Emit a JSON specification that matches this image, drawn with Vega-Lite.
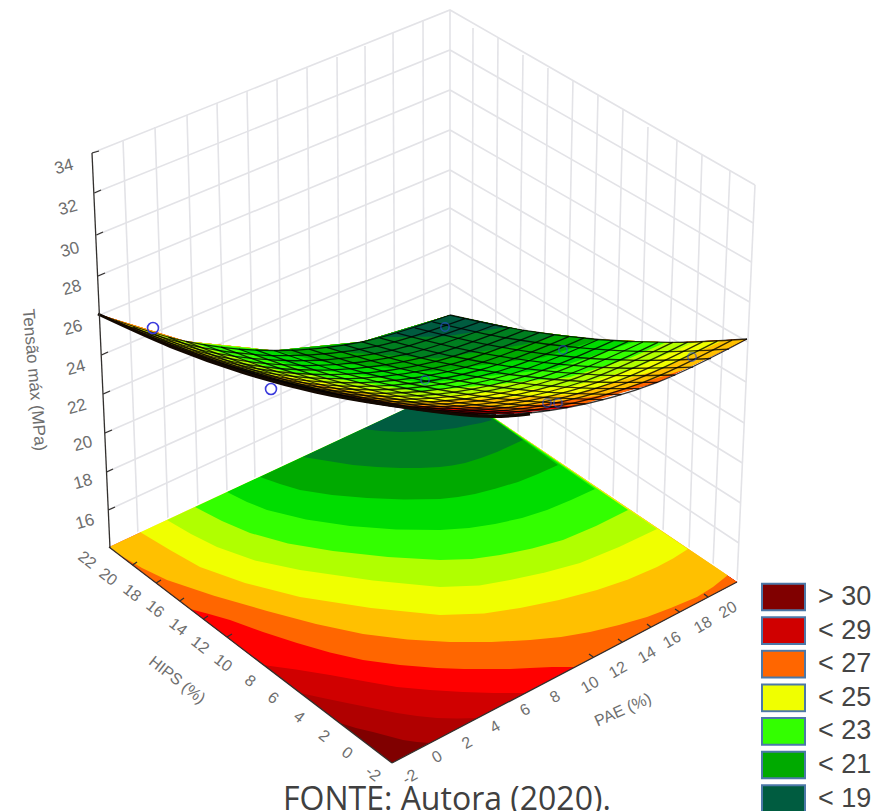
{"$schema":"https://vega.github.io/schema/vega-lite/v6.json","width":875,"height":811,"padding":0,"autosize":{"type":"none"},"background":"white","config":{"view":{"stroke":null},"axis":{"domain":false}},
"encoding":{"x":{"field":"u","type":"quantitative","scale":{"domain":[0,875],"nice":false,"zero":false},"axis":null},"y":{"field":"v","type":"quantitative","scale":{"domain":[811,0],"nice":false,"zero":false},"axis":null}},
"layer":[
{"data":{"values":[
{"k":"z34","i":0,"u":92,"v":153},{"k":"z34","i":1,"u":450,"v":10},{"k":"z34","i":2,"u":755,"v":185},
{"k":"z32","i":0,"u":94.3,"v":193},{"k":"z32","i":1,"u":450,"v":50},{"k":"z32","i":2,"u":753.2,"v":223},
{"k":"z30","i":0,"u":96.4,"v":235},{"k":"z30","i":1,"u":450,"v":90},{"k":"z30","i":2,"u":751.4,"v":262},
{"k":"z28","i":0,"u":98,"v":276},{"k":"z28","i":1,"u":450,"v":130},{"k":"z28","i":2,"u":749.6,"v":302},
{"k":"z26","i":0,"u":99.8,"v":315},{"k":"z26","i":1,"u":450,"v":170},{"k":"z26","i":2,"u":747.8,"v":342},
{"k":"z24","i":0,"u":101.5,"v":355},{"k":"z24","i":1,"u":450,"v":208},{"k":"z24","i":2,"u":746,"v":382},
{"k":"z22","i":0,"u":103.2,"v":394},{"k":"z22","i":1,"u":450,"v":245},{"k":"z22","i":2,"u":744.2,"v":423},
{"k":"z20","i":0,"u":104.9,"v":433},{"k":"z20","i":1,"u":450,"v":283},{"k":"z20","i":2,"u":742.4,"v":463},
{"k":"z18","i":0,"u":106.6,"v":472},{"k":"z18","i":1,"u":450,"v":318},{"k":"z18","i":2,"u":740.6,"v":503},
{"k":"z16","i":0,"u":108.3,"v":510},{"k":"z16","i":1,"u":450,"v":352},{"k":"z16","i":2,"u":738.8,"v":543},
{"k":"l1","i":0,"u":123,"v":140},{"k":"l1","i":1,"u":138,"v":535},
{"k":"l2","i":0,"u":155,"v":127},{"k":"l2","i":1,"u":168,"v":520},
{"k":"l3","i":0,"u":187,"v":115},{"k":"l3","i":1,"u":198,"v":506},
{"k":"l4","i":0,"u":217,"v":103},{"k":"l4","i":1,"u":227,"v":492},
{"k":"l5","i":0,"u":247,"v":91},{"k":"l5","i":1,"u":255,"v":479},
{"k":"l6","i":0,"u":277,"v":80},{"k":"l6","i":1,"u":282,"v":466},
{"k":"l7","i":0,"u":307,"v":68},{"k":"l7","i":1,"u":312,"v":452},
{"k":"l8","i":0,"u":337,"v":57},{"k":"l8","i":1,"u":340,"v":438},
{"k":"l9","i":0,"u":365,"v":46},{"k":"l9","i":1,"u":367,"v":425},
{"k":"l10","i":0,"u":393,"v":33},{"k":"l10","i":1,"u":395,"v":412},
{"k":"l11","i":0,"u":423,"v":20},{"k":"l11","i":1,"u":424,"v":400},
{"k":"l12","i":0,"u":450,"v":10},{"k":"l12","i":1,"u":450,"v":388},
{"k":"r1","i":0,"u":473,"v":28},{"k":"r1","i":1,"u":472,"v":403},
{"k":"r2","i":0,"u":498,"v":38},{"k":"r2","i":1,"u":495,"v":418},
{"k":"r3","i":0,"u":523,"v":55},{"k":"r3","i":1,"u":518,"v":434},
{"k":"r4","i":0,"u":548,"v":68},{"k":"r4","i":1,"u":542,"v":450},
{"k":"r5","i":0,"u":573,"v":80},{"k":"r5","i":1,"u":565,"v":466},
{"k":"r6","i":0,"u":598,"v":95},{"k":"r6","i":1,"u":589,"v":482},
{"k":"r7","i":0,"u":623,"v":110},{"k":"r7","i":1,"u":613,"v":498},
{"k":"r8","i":0,"u":648,"v":127},{"k":"r8","i":1,"u":637,"v":514},
{"k":"r9","i":0,"u":677,"v":140},{"k":"r9","i":1,"u":663,"v":532},
{"k":"r10","i":0,"u":702,"v":155},{"k":"r10","i":1,"u":689,"v":550},
{"k":"r11","i":0,"u":730,"v":170},{"k":"r11","i":1,"u":713,"v":566},
{"k":"r12","i":0,"u":755,"v":185},{"k":"r12","i":1,"u":737,"v":582}
]},"mark":{"type":"line","stroke":"#e3e3e7","strokeWidth":1.6},"encoding":{"detail":{"field":"k"},"order":{"field":"i"}}},

{"data":{"values":[
{"g":"f0","b":"> 30","i":0,"u":392,"v":763},{"g":"f0","b":"> 30","i":1,"u":737,"v":582},{"g":"f0","b":"> 30","i":2,"u":450,"v":388},{"g":"f0","b":"> 30","i":3,"u":109,"v":547},
{"g":"f1","b":"< 30","i":0,"u":340,"v":723},{"g":"f1","b":"< 30","i":1,"u":356,"v":728},{"g":"f1","b":"< 30","i":2,"u":373,"v":732},{"g":"f1","b":"< 30","i":3,"u":388,"v":736},{"g":"f1","b":"< 30","i":4,"u":403,"v":740},{"g":"f1","b":"< 30","i":5,"u":417,"v":742},{"g":"f1","b":"< 30","i":6,"u":430,"v":743},{"g":"f1","b":"< 30","i":7,"u":737,"v":582},{"g":"f1","b":"< 30","i":8,"u":450,"v":388},{"g":"f1","b":"< 30","i":9,"u":109,"v":547},
{"g":"f2","b":"< 29","i":0,"u":300,"v":693},{"g":"f2","b":"< 29","i":1,"u":323,"v":698},{"g":"f2","b":"< 29","i":2,"u":347,"v":703},{"g":"f2","b":"< 29","i":3,"u":372,"v":708},{"g":"f2","b":"< 29","i":4,"u":397,"v":713},{"g":"f2","b":"< 29","i":5,"u":417,"v":716},{"g":"f2","b":"< 29","i":6,"u":437,"v":718},{"g":"f2","b":"< 29","i":7,"u":457,"v":718.5},{"g":"f2","b":"< 29","i":8,"u":477,"v":718},{"g":"f2","b":"< 29","i":9,"u":737,"v":582},{"g":"f2","b":"< 29","i":10,"u":450,"v":388},{"g":"f2","b":"< 29","i":11,"u":109,"v":547},
{"g":"f3","b":"< 28","i":0,"u":263,"v":665},{"g":"f3","b":"< 28","i":1,"u":296,"v":669.5},{"g":"f3","b":"< 28","i":2,"u":330,"v":675},{"g":"f3","b":"< 28","i":3,"u":363,"v":681},{"g":"f3","b":"< 28","i":4,"u":397,"v":687},{"g":"f3","b":"< 28","i":5,"u":430,"v":690},{"g":"f3","b":"< 28","i":6,"u":463,"v":692},{"g":"f3","b":"< 28","i":7,"u":494,"v":693},{"g":"f3","b":"< 28","i":8,"u":525,"v":693},{"g":"f3","b":"< 28","i":9,"u":737,"v":582},{"g":"f3","b":"< 28","i":10,"u":450,"v":388},{"g":"f3","b":"< 28","i":11,"u":109,"v":547},
{"g":"f4","b":"< 27","i":0,"u":190,"v":609},{"g":"f4","b":"< 27","i":1,"u":209,"v":614},{"g":"f4","b":"< 27","i":2,"u":230,"v":620},{"g":"f4","b":"< 27","i":3,"u":263,"v":632},{"g":"f4","b":"< 27","i":4,"u":297,"v":643},{"g":"f4","b":"< 27","i":5,"u":330,"v":652.5},{"g":"f4","b":"< 27","i":6,"u":363,"v":660},{"g":"f4","b":"< 27","i":7,"u":400,"v":665},{"g":"f4","b":"< 27","i":8,"u":437,"v":668},{"g":"f4","b":"< 27","i":9,"u":464,"v":669},{"g":"f4","b":"< 27","i":10,"u":490,"v":669},{"g":"f4","b":"< 27","i":11,"u":510,"v":669},{"g":"f4","b":"< 27","i":12,"u":530,"v":668},{"g":"f4","b":"< 27","i":13,"u":552,"v":667},{"g":"f4","b":"< 27","i":14,"u":575,"v":667},{"g":"f4","b":"< 27","i":15,"u":737,"v":582},{"g":"f4","b":"< 27","i":16,"u":450,"v":388},{"g":"f4","b":"< 27","i":17,"u":109,"v":547},
{"g":"f5","b":"< 26","i":0,"u":118,"v":554},{"g":"f5","b":"< 26","i":1,"u":142,"v":568},{"g":"f5","b":"< 26","i":2,"u":167,"v":580},{"g":"f5","b":"< 26","i":3,"u":214,"v":595.7},{"g":"f5","b":"< 26","i":4,"u":267,"v":611},{"g":"f5","b":"< 26","i":5,"u":316,"v":624},{"g":"f5","b":"< 26","i":6,"u":363,"v":634},{"g":"f5","b":"< 26","i":7,"u":407.5,"v":639.6},{"g":"f5","b":"< 26","i":8,"u":450,"v":642},{"g":"f5","b":"< 26","i":9,"u":491.7,"v":642},{"g":"f5","b":"< 26","i":10,"u":530,"v":640},{"g":"f5","b":"< 26","i":11,"u":561,"v":637},{"g":"f5","b":"< 26","i":12,"u":590,"v":632},{"g":"f5","b":"< 26","i":13,"u":619,"v":625},{"g":"f5","b":"< 26","i":14,"u":647,"v":617},{"g":"f5","b":"< 26","i":15,"u":672,"v":607.5},{"g":"f5","b":"< 26","i":16,"u":697,"v":597},{"g":"f5","b":"< 26","i":17,"u":713,"v":587},{"g":"f5","b":"< 26","i":18,"u":728,"v":575},{"g":"f5","b":"< 26","i":19,"u":450,"v":388},{"g":"f5","b":"< 26","i":20,"u":109,"v":547},
{"g":"f6","b":"< 25","i":0,"u":140,"v":532},{"g":"f6","b":"< 25","i":1,"u":170,"v":550},{"g":"f6","b":"< 25","i":2,"u":200,"v":567},{"g":"f6","b":"< 25","i":3,"u":245,"v":583},{"g":"f6","b":"< 25","i":4,"u":300,"v":597},{"g":"f6","b":"< 25","i":5,"u":371,"v":608},{"g":"f6","b":"< 25","i":6,"u":440,"v":615},{"g":"f6","b":"< 25","i":7,"u":484,"v":613.6},{"g":"f6","b":"< 25","i":8,"u":520,"v":608},{"g":"f6","b":"< 25","i":9,"u":559,"v":600},{"g":"f6","b":"< 25","i":10,"u":597,"v":590},{"g":"f6","b":"< 25","i":11,"u":628,"v":579.5},{"g":"f6","b":"< 25","i":12,"u":657,"v":567},{"g":"f6","b":"< 25","i":13,"u":673,"v":558.5},{"g":"f6","b":"< 25","i":14,"u":688,"v":549},{"g":"f6","b":"< 25","i":15,"u":450,"v":388},
{"g":"f7","b":"< 24","i":0,"u":167,"v":520},{"g":"f7","b":"< 24","i":1,"u":191,"v":534},{"g":"f7","b":"< 24","i":2,"u":217,"v":547},{"g":"f7","b":"< 24","i":3,"u":255,"v":560.5},{"g":"f7","b":"< 24","i":4,"u":300,"v":570},{"g":"f7","b":"< 24","i":5,"u":373,"v":580.5},{"g":"f7","b":"< 24","i":6,"u":440,"v":587},{"g":"f7","b":"< 24","i":7,"u":479.4,"v":585.6},{"g":"f7","b":"< 24","i":8,"u":510,"v":580},{"g":"f7","b":"< 24","i":9,"u":545,"v":572.5},{"g":"f7","b":"< 24","i":10,"u":580,"v":563},{"g":"f7","b":"< 24","i":11,"u":619,"v":547},{"g":"f7","b":"< 24","i":12,"u":657,"v":529},{"g":"f7","b":"< 24","i":13,"u":450,"v":388},
{"g":"f8","b":"< 23","i":0,"u":195,"v":507},{"g":"f8","b":"< 23","i":1,"u":222,"v":521},{"g":"f8","b":"< 23","i":2,"u":250,"v":533},{"g":"f8","b":"< 23","i":3,"u":288,"v":543.5},{"g":"f8","b":"< 23","i":4,"u":333,"v":551},{"g":"f8","b":"< 23","i":5,"u":388,"v":557},{"g":"f8","b":"< 23","i":6,"u":440,"v":560},{"g":"f8","b":"< 23","i":7,"u":472,"v":559},{"g":"f8","b":"< 23","i":8,"u":500,"v":555},{"g":"f8","b":"< 23","i":9,"u":532,"v":548.5},{"g":"f8","b":"< 23","i":10,"u":563,"v":540},{"g":"f8","b":"< 23","i":11,"u":596,"v":526},{"g":"f8","b":"< 23","i":12,"u":628,"v":510},{"g":"f8","b":"< 23","i":13,"u":450,"v":388},
{"g":"f9","b":"< 22","i":0,"u":227,"v":492},{"g":"f9","b":"< 22","i":1,"u":247,"v":502},{"g":"f9","b":"< 22","i":2,"u":267,"v":510},{"g":"f9","b":"< 22","i":3,"u":306,"v":519.5},{"g":"f9","b":"< 22","i":4,"u":350,"v":526},{"g":"f9","b":"< 22","i":5,"u":396,"v":529.5},{"g":"f9","b":"< 22","i":6,"u":440,"v":530},{"g":"f9","b":"< 22","i":7,"u":469,"v":528},{"g":"f9","b":"< 22","i":8,"u":495,"v":524},{"g":"f9","b":"< 22","i":9,"u":522,"v":518},{"g":"f9","b":"< 22","i":10,"u":547,"v":510},{"g":"f9","b":"< 22","i":11,"u":571,"v":500},{"g":"f9","b":"< 22","i":12,"u":595,"v":489},{"g":"f9","b":"< 22","i":13,"u":450,"v":388},
{"g":"f10","b":"< 21","i":0,"u":260,"v":477},{"g":"f10","b":"< 21","i":1,"u":280,"v":484},{"g":"f10","b":"< 21","i":2,"u":300,"v":490},{"g":"f10","b":"< 21","i":3,"u":332,"v":495},{"g":"f10","b":"< 21","i":4,"u":367,"v":498},{"g":"f10","b":"< 21","i":5,"u":404,"v":499.5},{"g":"f10","b":"< 21","i":6,"u":440,"v":499},{"g":"f10","b":"< 21","i":7,"u":458,"v":497},{"g":"f10","b":"< 21","i":8,"u":475,"v":494},{"g":"f10","b":"< 21","i":9,"u":496,"v":488.5},{"g":"f10","b":"< 21","i":10,"u":518,"v":482},{"g":"f10","b":"< 21","i":11,"u":538,"v":474},{"g":"f10","b":"< 21","i":12,"u":558,"v":465},{"g":"f10","b":"< 21","i":13,"u":450,"v":388},
{"g":"f11","b":"< 20","i":0,"u":303,"v":457},{"g":"f11","b":"< 20","i":1,"u":328,"v":461},{"g":"f11","b":"< 20","i":2,"u":353,"v":465},{"g":"f11","b":"< 20","i":3,"u":377,"v":467},{"g":"f11","b":"< 20","i":4,"u":400,"v":468},{"g":"f11","b":"< 20","i":5,"u":420,"v":468},{"g":"f11","b":"< 20","i":6,"u":440,"v":467},{"g":"f11","b":"< 20","i":7,"u":452,"v":465.5},{"g":"f11","b":"< 20","i":8,"u":465,"v":463},{"g":"f11","b":"< 20","i":9,"u":481,"v":458},{"g":"f11","b":"< 20","i":10,"u":497,"v":452},{"g":"f11","b":"< 20","i":11,"u":510,"v":446},{"g":"f11","b":"< 20","i":12,"u":523,"v":440},{"g":"f11","b":"< 20","i":13,"u":450,"v":388},
{"g":"f12","b":"< 19","i":0,"u":363,"v":429},{"g":"f12","b":"< 19","i":1,"u":381,"v":431},{"g":"f12","b":"< 19","i":2,"u":400,"v":432},{"g":"f12","b":"< 19","i":3,"u":420,"v":431.5},{"g":"f12","b":"< 19","i":4,"u":440,"v":430},{"g":"f12","b":"< 19","i":5,"u":456,"v":428},{"g":"f12","b":"< 19","i":6,"u":470,"v":425},{"g":"f12","b":"< 19","i":7,"u":481,"v":423},{"g":"f12","b":"< 19","i":8,"u":492,"v":420},{"g":"f12","b":"< 19","i":9,"u":450,"v":388}
]},"mark":{"type":"line","interpolate":"linear","strokeWidth":0},"encoding":{"detail":{"field":"g"},"order":{"field":"i"},"fill":{"field":"b","type":"nominal","scale":{"domain":["> 30","< 30","< 29","< 28","< 27","< 26","< 25","< 24","< 23","< 22","< 21","< 20","< 19"],"range":["#800000","#b00000","#d00000","#ff0000","#ff6600","#ffc000","#f0ff00","#b0ff00","#33ff00","#00dd00","#00aa00","#007f20","#005c40"]},"legend":{"orient":"none","legendX":761,"legendY":582,"title":null,"padding":0,"values":["> 30","< 29","< 27","< 25","< 23","< 21","< 19"],"symbolType":"M-1,-0.62H1V0.62H-1Z","symbolSize":1849,"symbolStrokeColor":"#555555","symbolStrokeWidth":2,"symbolOpacity":1,"labelFont":"Liberation Sans","labelFontSize":27,"labelColor":"#444444","labelOffset":12,"rowPadding":3.6,"clipHeight":30}}}},

{"data":{"values":[{"k":"tl","i":0,"u":109,"v":546},{"k":"tl","i":1,"u":450,"v":387},{"k":"tl","i":2,"u":737.5,"v":581}]},"mark":{"type":"line","stroke":"#ffffff","strokeWidth":1.4},"encoding":{"detail":{"field":"k"},"order":{"field":"i"}}},

{"data":{"values":[
{"g":"s0","b":"< 29","i":0,"u":388,"v":404},{"g":"s0","b":"< 29","i":1,"u":478,"v":414.8},{"g":"s0","b":"< 29","i":2,"u":567.5,"v":407.5},{"g":"s0","b":"< 29","i":3,"u":657.3,"v":382.3},{"g":"s0","b":"< 29","i":4,"u":747,"v":339},{"g":"s0","b":"< 29","i":5,"u":672.8,"v":342.4},{"g":"s0","b":"< 29","i":6,"u":598.5,"v":339.5},{"g":"s0","b":"< 29","i":7,"u":524.3,"v":330.4},{"g":"s0","b":"< 29","i":8,"u":450,"v":315},{"g":"s0","b":"< 29","i":9,"u":362,"v":341.8},{"g":"s0","b":"< 29","i":10,"u":274,"v":350.5},{"g":"s0","b":"< 29","i":11,"u":186,"v":341.3},{"g":"s0","b":"< 29","i":12,"u":98,"v":314},{"g":"s0","b":"< 29","i":13,"u":170.5,"v":345.9},{"g":"s0","b":"< 29","i":14,"u":243,"v":371.5},{"g":"s0","b":"< 29","i":15,"u":315.5,"v":390.9},
{"g":"s1","b":"< 28","i":0,"u":289.7,"v":384.7},{"g":"s1","b":"< 28","i":1,"u":336.9,"v":396.1},{"g":"s1","b":"< 28","i":2,"u":397.9,"v":407},{"g":"s1","b":"< 28","i":3,"u":460.2,"v":413.2},{"g":"s1","b":"< 28","i":4,"u":509.7,"v":414.2},{"g":"s1","b":"< 28","i":5,"u":567.5,"v":407.5},{"g":"s1","b":"< 28","i":6,"u":657.3,"v":382.3},{"g":"s1","b":"< 28","i":7,"u":747,"v":339},{"g":"s1","b":"< 28","i":8,"u":672.8,"v":342.4},{"g":"s1","b":"< 28","i":9,"u":598.5,"v":339.5},{"g":"s1","b":"< 28","i":10,"u":524.3,"v":330.4},{"g":"s1","b":"< 28","i":11,"u":450,"v":315},{"g":"s1","b":"< 28","i":12,"u":362,"v":341.8},{"g":"s1","b":"< 28","i":13,"u":274,"v":350.5},{"g":"s1","b":"< 28","i":14,"u":186,"v":341.3},{"g":"s1","b":"< 28","i":15,"u":98,"v":314},{"g":"s1","b":"< 28","i":16,"u":170.5,"v":345.9},{"g":"s1","b":"< 28","i":17,"u":243,"v":371.5},
{"g":"s2","b":"< 27","i":0,"u":232,"v":368},{"g":"s2","b":"< 27","i":1,"u":291.8,"v":385.4},{"g":"s2","b":"< 27","i":2,"u":401.9,"v":406.6},{"g":"s2","b":"< 27","i":3,"u":516.3,"v":411.3},{"g":"s2","b":"< 27","i":4,"u":581.1,"v":404.8},{"g":"s2","b":"< 27","i":5,"u":657.3,"v":382.3},{"g":"s2","b":"< 27","i":6,"u":747,"v":339},{"g":"s2","b":"< 27","i":7,"u":672.8,"v":342.4},{"g":"s2","b":"< 27","i":8,"u":598.5,"v":339.5},{"g":"s2","b":"< 27","i":9,"u":524.3,"v":330.4},{"g":"s2","b":"< 27","i":10,"u":450,"v":315},{"g":"s2","b":"< 27","i":11,"u":362,"v":341.8},{"g":"s2","b":"< 27","i":12,"u":274,"v":350.5},{"g":"s2","b":"< 27","i":13,"u":186,"v":341.3},{"g":"s2","b":"< 27","i":14,"u":98,"v":314},{"g":"s2","b":"< 27","i":15,"u":170.5,"v":345.9},
{"g":"s3","b":"< 26","i":0,"u":98,"v":314},{"g":"s3","b":"< 26","i":1,"u":149.2,"v":337},{"g":"s3","b":"< 26","i":2,"u":221.7,"v":364.1},{"g":"s3","b":"< 26","i":3,"u":301.2,"v":386.8},{"g":"s3","b":"< 26","i":4,"u":406.6,"v":405},{"g":"s3","b":"< 26","i":5,"u":515.3,"v":407.4},{"g":"s3","b":"< 26","i":6,"u":602,"v":395.3},{"g":"s3","b":"< 26","i":7,"u":685.2,"v":369.3},{"g":"s3","b":"< 26","i":8,"u":747,"v":339},{"g":"s3","b":"< 26","i":9,"u":672.8,"v":342.4},{"g":"s3","b":"< 26","i":10,"u":598.5,"v":339.5},{"g":"s3","b":"< 26","i":11,"u":524.3,"v":330.4},{"g":"s3","b":"< 26","i":12,"u":450,"v":315},{"g":"s3","b":"< 26","i":13,"u":362,"v":341.8},{"g":"s3","b":"< 26","i":14,"u":274,"v":350.5},{"g":"s3","b":"< 26","i":15,"u":186,"v":341.3},
{"g":"s4","b":"< 25","i":0,"u":127.9,"v":325.3},{"g":"s4","b":"< 25","i":1,"u":176.8,"v":346},{"g":"s4","b":"< 25","i":2,"u":255.9,"v":372.8},{"g":"s4","b":"< 25","i":3,"u":411.1,"v":402.1},{"g":"s4","b":"< 25","i":4,"u":574,"v":394.3},{"g":"s4","b":"< 25","i":5,"u":663.6,"v":368.2},{"g":"s4","b":"< 25","i":6,"u":721.8,"v":340.9},{"g":"s4","b":"< 25","i":7,"u":672.8,"v":342.4},{"g":"s4","b":"< 25","i":8,"u":598.5,"v":339.5},{"g":"s4","b":"< 25","i":9,"u":524.3,"v":330.4},{"g":"s4","b":"< 25","i":10,"u":450,"v":315},{"g":"s4","b":"< 25","i":11,"u":362,"v":341.8},{"g":"s4","b":"< 25","i":12,"u":274,"v":350.5},{"g":"s4","b":"< 25","i":13,"u":186,"v":341.3},
{"g":"s5","b":"< 24","i":0,"u":159.6,"v":335},{"g":"s5","b":"< 24","i":1,"u":209.5,"v":354.4},{"g":"s5","b":"< 24","i":2,"u":263.9,"v":371.5},{"g":"s5","b":"< 24","i":3,"u":415.8,"v":397.8},{"g":"s5","b":"< 24","i":4,"u":575.4,"v":385.8},{"g":"s5","b":"< 24","i":5,"u":636.6,"v":367.8},{"g":"s5","b":"< 24","i":6,"u":695,"v":342},{"g":"s5","b":"< 24","i":7,"u":672.8,"v":342.4},{"g":"s5","b":"< 24","i":8,"u":598.5,"v":339.5},{"g":"s5","b":"< 24","i":9,"u":524.3,"v":330.4},{"g":"s5","b":"< 24","i":10,"u":450,"v":315},{"g":"s5","b":"< 24","i":11,"u":362,"v":341.8},{"g":"s5","b":"< 24","i":12,"u":274,"v":350.5},{"g":"s5","b":"< 24","i":13,"u":186,"v":341.3},
{"g":"s6","b":"< 23","i":0,"u":194.8,"v":343},{"g":"s6","b":"< 23","i":1,"u":224.4,"v":353.9},{"g":"s6","b":"< 23","i":2,"u":279.1,"v":370.2},{"g":"s6","b":"< 23","i":3,"u":420.8,"v":391.5},{"g":"s6","b":"< 23","i":4,"u":569.3,"v":377.2},{"g":"s6","b":"< 23","i":5,"u":630.8,"v":357.8},{"g":"s6","b":"< 23","i":6,"u":665.3,"v":342.4},{"g":"s6","b":"< 23","i":7,"u":598.5,"v":339.5},{"g":"s6","b":"< 23","i":8,"u":524.3,"v":330.4},{"g":"s6","b":"< 23","i":9,"u":450,"v":315},{"g":"s6","b":"< 23","i":10,"u":362,"v":341.8},{"g":"s6","b":"< 23","i":11,"u":274,"v":350.5},
{"g":"s7","b":"< 22","i":0,"u":231.8,"v":348.3},{"g":"s7","b":"< 22","i":1,"u":302.1,"v":368.2},{"g":"s7","b":"< 22","i":2,"u":426,"v":383},{"g":"s7","b":"< 22","i":3,"u":555.2,"v":368.8},{"g":"s7","b":"< 22","i":4,"u":634.1,"v":341.7},{"g":"s7","b":"< 22","i":5,"u":598.5,"v":339.5},{"g":"s7","b":"< 22","i":6,"u":524.3,"v":330.4},{"g":"s7","b":"< 22","i":7,"u":450,"v":315},{"g":"s7","b":"< 22","i":8,"u":362,"v":341.8},{"g":"s7","b":"< 22","i":9,"u":274,"v":350.5},
{"g":"s8","b":"< 21","i":0,"u":274,"v":350.5},{"g":"s8","b":"< 21","i":1,"u":323.4,"v":362.1},{"g":"s8","b":"< 21","i":2,"u":431.5,"v":371.7},{"g":"s8","b":"< 21","i":3,"u":544,"v":357.2},{"g":"s8","b":"< 21","i":4,"u":598.5,"v":339.5},{"g":"s8","b":"< 21","i":5,"u":524.3,"v":330.4},{"g":"s8","b":"< 21","i":6,"u":450,"v":315},{"g":"s8","b":"< 21","i":7,"u":362,"v":341.8},
{"g":"s9","b":"< 20","i":0,"u":323.3,"v":347.8},{"g":"s9","b":"< 20","i":1,"u":354.4,"v":353},{"g":"s9","b":"< 20","i":2,"u":437.3,"v":358.4},{"g":"s9","b":"< 20","i":3,"u":523.2,"v":344.8},{"g":"s9","b":"< 20","i":4,"u":556.9,"v":335.2},{"g":"s9","b":"< 20","i":5,"u":524.3,"v":330.4},{"g":"s9","b":"< 20","i":6,"u":450,"v":315},{"g":"s9","b":"< 20","i":7,"u":362,"v":341.8},
{"g":"s10","b":"< 19","i":0,"u":383,"v":337},{"g":"s10","b":"< 19","i":1,"u":444.2,"v":336.5},{"g":"s10","b":"< 19","i":2,"u":506.4,"v":327.3},{"g":"s10","b":"< 19","i":3,"u":450,"v":315}
]},"mark":{"type":"line","interpolate":"linear","strokeWidth":0},"encoding":{"detail":{"field":"g"},"order":{"field":"i"},"fill":{"field":"b","type":"nominal"}}},

{"data":{"values":[
{"k":"a0","i":0,"u":388,"v":404},{"k":"a0","i":1,"u":478,"v":415},{"k":"a0","i":2,"u":567.5,"v":407.5},{"k":"a0","i":3,"u":657.3,"v":382.3},{"k":"a0","i":4,"u":747,"v":339},
{"k":"a1","i":0,"u":373.5,"v":401.9},{"k":"a1","i":1,"u":463,"v":413.5},{"k":"a1","i":2,"u":553,"v":407},{"k":"a1","i":3,"u":642.5,"v":382.6},{"k":"a1","i":4,"u":732,"v":340.2},
{"k":"a2","i":0,"u":359,"v":399.5},{"k":"a2","i":1,"u":448.6,"v":411.9},{"k":"a2","i":2,"u":538.1,"v":406.3},{"k":"a2","i":3,"u":627.5,"v":382.7},{"k":"a2","i":4,"u":717.3,"v":341.1},
{"k":"a3","i":0,"u":344.5,"v":396.9},{"k":"a3","i":1,"u":434,"v":410.1},{"k":"a3","i":2,"u":523.5,"v":405.4},{"k":"a3","i":3,"u":613,"v":382.6},{"k":"a3","i":4,"u":702.5,"v":341.8},
{"k":"a4","i":0,"u":330,"v":394},{"k":"a4","i":1,"u":419.4,"v":408},{"k":"a4","i":2,"u":508.8,"v":404.1},{"k":"a4","i":3,"u":598.2,"v":382.2},{"k":"a4","i":4,"u":687.6,"v":342.2},
{"k":"a5","i":0,"u":315.5,"v":390.9},{"k":"a5","i":1,"u":404.8,"v":405.8},{"k":"a5","i":2,"u":494.1,"v":402.7},{"k":"a5","i":3,"u":583.4,"v":381.5},{"k":"a5","i":4,"u":672.8,"v":342.4},
{"k":"a6","i":0,"u":301,"v":387.5},{"k":"a6","i":1,"u":390.2,"v":403.2},{"k":"a6","i":2,"u":479.5,"v":400.9},{"k":"a6","i":3,"u":568.7,"v":380.6},{"k":"a6","i":4,"u":657.9,"v":342.3},
{"k":"a7","i":0,"u":286.5,"v":383.9},{"k":"a7","i":1,"u":375.6,"v":400.4},{"k":"a7","i":2,"u":464.8,"v":399},{"k":"a7","i":3,"u":554,"v":379.5},{"k":"a7","i":4,"u":643,"v":342},
{"k":"a8","i":0,"u":272,"v":380},{"k":"a8","i":1,"u":361,"v":397.4},{"k":"a8","i":2,"u":450.1,"v":396.7},{"k":"a8","i":3,"u":539.2,"v":378},{"k":"a8","i":4,"u":628.2,"v":341.4},
{"k":"a9","i":0,"u":257.5,"v":375.9},{"k":"a9","i":1,"u":346.5,"v":394},{"k":"a9","i":2,"u":435.6,"v":394.3},{"k":"a9","i":3,"u":524.6,"v":376.4},{"k":"a9","i":4,"u":613.4,"v":340.6},
{"k":"a10","i":0,"u":243,"v":371.5},{"k":"a10","i":1,"u":331.9,"v":390.5},{"k":"a10","i":2,"u":420.8,"v":391.5},{"k":"a10","i":3,"u":509.6,"v":374.5},{"k":"a10","i":4,"u":598.5,"v":339.5},
{"k":"a11","i":0,"u":228.5,"v":366.9},{"k":"a11","i":1,"u":317.3,"v":386.7},{"k":"a11","i":2,"u":406,"v":388.5},{"k":"a11","i":3,"u":494.9,"v":372.4},{"k":"a11","i":4,"u":583.7,"v":338.2},
{"k":"a12","i":0,"u":214,"v":362},{"k":"a12","i":1,"u":302.7,"v":382.6},{"k":"a12","i":2,"u":391.4,"v":385.3},{"k":"a12","i":3,"u":480,"v":370},{"k":"a12","i":4,"u":568.8,"v":336.6},
{"k":"a13","i":0,"u":199.5,"v":356.9},{"k":"a13","i":1,"u":288.1,"v":378.4},{"k":"a13","i":2,"u":376.7,"v":381.9},{"k":"a13","i":3,"u":465.3,"v":367.4},{"k":"a13","i":4,"u":553.9,"v":334.8},
{"k":"a14","i":0,"u":185,"v":351.5},{"k":"a14","i":1,"u":273.5,"v":373.8},{"k":"a14","i":2,"u":362,"v":378.1},{"k":"a14","i":3,"u":450.6,"v":364.4},{"k":"a14","i":4,"u":539.1,"v":332.7},
{"k":"a15","i":0,"u":170.5,"v":345.9},{"k":"a15","i":1,"u":258.9,"v":369},{"k":"a15","i":2,"u":347.4,"v":374.2},{"k":"a15","i":3,"u":435.8,"v":361.3},{"k":"a15","i":4,"u":524.2,"v":330.4},
{"k":"a16","i":0,"u":156,"v":340},{"k":"a16","i":1,"u":244.3,"v":364},{"k":"a16","i":2,"u":332.7,"v":369.9},{"k":"a16","i":3,"u":421,"v":357.9},{"k":"a16","i":4,"u":509.4,"v":327.8},
{"k":"a17","i":0,"u":141.5,"v":333.9},{"k":"a17","i":1,"u":229.8,"v":358.7},{"k":"a17","i":2,"u":318,"v":365.4},{"k":"a17","i":3,"u":406.3,"v":354.2},{"k":"a17","i":4,"u":494.5,"v":325},
{"k":"a18","i":0,"u":127,"v":327.5},{"k":"a18","i":1,"u":215.2,"v":353.1},{"k":"a18","i":2,"u":303.4,"v":360.7},{"k":"a18","i":3,"u":391.5,"v":350.3},{"k":"a18","i":4,"u":479.7,"v":321.9},
{"k":"a19","i":0,"u":112.5,"v":320.9},{"k":"a19","i":1,"u":200.6,"v":347.3},{"k":"a19","i":2,"u":288.7,"v":355.7},{"k":"a19","i":3,"u":376.8,"v":346.2},{"k":"a19","i":4,"u":464.9,"v":318.6},
{"k":"a20","i":0,"u":98,"v":314},{"k":"a20","i":1,"u":186,"v":341.3},{"k":"a20","i":2,"u":274,"v":350.5},{"k":"a20","i":3,"u":362,"v":341.8},{"k":"a20","i":4,"u":450,"v":315},
{"k":"b1","i":0,"u":406,"v":407.6},{"k":"b1","i":1,"u":333.4,"v":395.3},{"k":"b1","i":2,"u":260.8,"v":376.7},{"k":"b1","i":3,"u":188.2,"v":352},{"k":"b1","i":4,"u":115.6,"v":320.9},
{"k":"b2","i":0,"u":424,"v":410.5},{"k":"b2","i":1,"u":351.2,"v":399},{"k":"b2","i":2,"u":278.6,"v":381.3},{"k":"b2","i":3,"u":205.9,"v":357.4},{"k":"b2","i":4,"u":133.2,"v":327.1},
{"k":"b3","i":0,"u":442,"v":412.6},{"k":"b3","i":1,"u":369.1,"v":402},{"k":"b3","i":2,"u":296.3,"v":385},{"k":"b3","i":3,"u":223.6,"v":362},{"k":"b3","i":4,"u":150.8,"v":332.5},
{"k":"b4","i":0,"u":460,"v":414},{"k":"b4","i":1,"u":387,"v":404.6},{"k":"b4","i":2,"u":314.1,"v":388.1},{"k":"b4","i":3,"u":241.3,"v":365.8},{"k":"b4","i":4,"u":168.4,"v":337.2},
{"k":"b5","i":0,"u":478,"v":414.8},{"k":"b5","i":1,"u":404.8,"v":405.8},{"k":"b5","i":2,"u":331.9,"v":390.5},{"k":"b5","i":3,"u":258.9,"v":369},{"k":"b5","i":4,"u":186,"v":341.3},
{"k":"b6","i":0,"u":496,"v":414.7},{"k":"b6","i":1,"u":422.7,"v":406.6},{"k":"b6","i":2,"u":349.7,"v":392.1},{"k":"b6","i":3,"u":276.6,"v":371.5},{"k":"b6","i":4,"u":203.6,"v":344.5},
{"k":"b7","i":0,"u":514,"v":414},{"k":"b7","i":1,"u":440.5,"v":406.7},{"k":"b7","i":2,"u":367.4,"v":393},{"k":"b7","i":3,"u":294.3,"v":373.2},{"k":"b7","i":4,"u":221.2,"v":347.1},
{"k":"b8","i":0,"u":532,"v":412.6},{"k":"b8","i":1,"u":458.4,"v":406.2},{"k":"b8","i":2,"u":385.2,"v":393.3},{"k":"b8","i":3,"u":312,"v":374.3},{"k":"b8","i":4,"u":238.8,"v":349},
{"k":"b9","i":0,"u":550,"v":410.4},{"k":"b9","i":1,"u":476.3,"v":405},{"k":"b9","i":2,"u":403,"v":392.8},{"k":"b9","i":3,"u":329.7,"v":374.6},{"k":"b9","i":4,"u":256.4,"v":350.1},
{"k":"b10","i":0,"u":567.5,"v":407.5},{"k":"b10","i":1,"u":494.1,"v":402.7},{"k":"b10","i":2,"u":420.8,"v":391.5},{"k":"b10","i":3,"u":347.4,"v":374.2},{"k":"b10","i":4,"u":274,"v":350.5},
{"k":"b11","i":0,"u":585.5,"v":403.9},{"k":"b11","i":1,"u":512,"v":399.9},{"k":"b11","i":2,"u":438.5,"v":389.5},{"k":"b11","i":3,"u":365,"v":373},{"k":"b11","i":4,"u":291.6,"v":350.2},
{"k":"b12","i":0,"u":603.4,"v":399.6},{"k":"b12","i":1,"u":529.9,"v":396.4},{"k":"b12","i":2,"u":456.3,"v":386.9},{"k":"b12","i":3,"u":382.8,"v":371.2},{"k":"b12","i":4,"u":309.2,"v":349.2},
{"k":"b13","i":0,"u":621.4,"v":394.5},{"k":"b13","i":1,"u":547.7,"v":392.1},{"k":"b13","i":2,"u":474.1,"v":383.5},{"k":"b13","i":3,"u":400.4,"v":368.6},{"k":"b13","i":4,"u":326.8,"v":347.4},
{"k":"b14","i":0,"u":639.3,"v":388.7},{"k":"b14","i":1,"u":565.6,"v":387.2},{"k":"b14","i":2,"u":491.9,"v":379.3},{"k":"b14","i":3,"u":418.1,"v":365.3},{"k":"b14","i":4,"u":344.4,"v":344.9},
{"k":"b15","i":0,"u":657.3,"v":382.3},{"k":"b15","i":1,"u":583.4,"v":381.5},{"k":"b15","i":2,"u":509.6,"v":374.5},{"k":"b15","i":3,"u":435.8,"v":361.3},{"k":"b15","i":4,"u":362,"v":341.8},
{"k":"b16","i":0,"u":675.2,"v":375},{"k":"b16","i":1,"u":601.3,"v":375.1},{"k":"b16","i":2,"u":527.4,"v":368.9},{"k":"b16","i":3,"u":453.5,"v":356.5},{"k":"b16","i":4,"u":379.6,"v":337.8},
{"k":"b17","i":0,"u":693.2,"v":367.1},{"k":"b17","i":1,"u":619.2,"v":368},{"k":"b17","i":2,"u":545.2,"v":362.6},{"k":"b17","i":3,"u":471.2,"v":351.1},{"k":"b17","i":4,"u":397.2,"v":333.2},
{"k":"b18","i":0,"u":711.1,"v":358.5},{"k":"b18","i":1,"u":637,"v":360.3},{"k":"b18","i":2,"u":563,"v":356},{"k":"b18","i":3,"u":488.9,"v":344.9},{"k":"b18","i":4,"u":414.8,"v":327.9},
{"k":"b19","i":0,"u":729.1,"v":349.1},{"k":"b19","i":1,"u":654.9,"v":351.7},{"k":"b19","i":2,"u":580.7,"v":347.9},{"k":"b19","i":3,"u":506.6,"v":338},{"k":"b19","i":4,"u":432.4,"v":321.8},
{"k":"b20","i":0,"u":747,"v":339},{"k":"b20","i":1,"u":672.8,"v":342.4},{"k":"b20","i":2,"u":598.5,"v":339.5},{"k":"b20","i":3,"u":524.3,"v":330.4},{"k":"b20","i":4,"u":450,"v":315}
]},"mark":{"type":"line","interpolate":"cardinal","tension":0,"stroke":"#000000","strokeWidth":1.3,"opacity":0.8},"encoding":{"detail":{"field":"k"},"order":{"field":"i"}}},

{"data":{"values":[{"k":"rim","i":0,"u":98,"v":314},{"k":"rim","i":1,"u":170.5,"v":346.5},{"k":"rim","i":2,"u":243,"v":372.5},{"k":"rim","i":3,"u":315.5,"v":392},{"k":"rim","i":4,"u":388,"v":405},{"k":"rim","i":5,"u":478,"v":416},{"k":"rim","i":6,"u":530,"v":414}]},"mark":{"type":"line","interpolate":"cardinal","tension":0,"stroke":"#120800","strokeWidth":3},"encoding":{"detail":{"field":"k"},"order":{"field":"i"}}},

{"data":{"values":[
{"k":"eixo","i":0,"u":92,"v":153},{"k":"eixo","i":1,"u":110,"v":548},
{"k":"t34","i":0,"u":92,"v":153},{"k":"t34","i":1,"u":99,"v":151},
{"k":"t32","i":0,"u":94.3,"v":193},{"k":"t32","i":1,"u":101,"v":190},
{"k":"t30","i":0,"u":96.4,"v":235},{"k":"t30","i":1,"u":103,"v":232},
{"k":"t28","i":0,"u":98,"v":276},{"k":"t28","i":1,"u":105,"v":273},
{"k":"t24","i":0,"u":101.5,"v":355},{"k":"t24","i":1,"u":108,"v":352},
{"k":"t22","i":0,"u":103.2,"v":394},{"k":"t22","i":1,"u":110,"v":391},
{"k":"t20","i":0,"u":104.9,"v":433},{"k":"t20","i":1,"u":112,"v":430},
{"k":"t18","i":0,"u":106.6,"v":472},{"k":"t18","i":1,"u":113,"v":469},
{"k":"t16","i":0,"u":108.3,"v":510},{"k":"t16","i":1,"u":115,"v":507},
{"k":"hips","i":0,"u":109,"v":547},{"k":"hips","i":1,"u":392,"v":763},
{"k":"pae","i":0,"u":392,"v":763},{"k":"pae","i":1,"u":737,"v":582},
{"k":"h1","i":0,"u":132.6,"v":565},{"k":"h1","i":1,"u":137,"v":562},
{"k":"h2","i":0,"u":156.2,"v":583},{"k":"h2","i":1,"u":161,"v":580},
{"k":"h3","i":0,"u":179.8,"v":601},{"k":"h3","i":1,"u":184,"v":598},
{"k":"h4","i":0,"u":203.4,"v":619},{"k":"h4","i":1,"u":208,"v":616},
{"k":"h5","i":0,"u":227,"v":637},{"k":"h5","i":1,"u":232,"v":634},
{"k":"p1","i":0,"u":708,"v":597},{"k":"p1","i":1,"u":704,"v":594},
{"k":"p2","i":0,"u":679.5,"v":612},{"k":"p2","i":1,"u":675,"v":609},
{"k":"p3","i":0,"u":650.7,"v":627},{"k":"p3","i":1,"u":647,"v":624},
{"k":"p4","i":0,"u":622,"v":642},{"k":"p4","i":1,"u":618,"v":639},
{"k":"p5","i":0,"u":593.2,"v":657},{"k":"p5","i":1,"u":589,"v":654}
]},"mark":{"type":"line","stroke":"#33302e","strokeWidth":1.3},"encoding":{"detail":{"field":"k"},"order":{"field":"i"}}},

{"data":{"values":[{"u":153,"v":328},{"u":271,"v":389}]},"mark":{"type":"point","shape":"circle","size":120,"filled":false,"stroke":"#3b3bdc","strokeWidth":1.6,"opacity":1}},
{"data":{"values":[{"u":425,"v":380},{"u":445,"v":327},{"u":563,"v":350},{"u":692,"v":357},{"u":547,"v":403},{"u":558,"v":403}]},"mark":{"type":"point","shape":"circle","size":70,"filled":false,"stroke":"#2a4ad0","strokeWidth":1.6,"opacity":0.6}},

{"data":{"values":[{"u":64,"v":167,"t":"34"},{"u":68,"v":208,"t":"32"},{"u":70,"v":250,"t":"30"},{"u":72,"v":288,"t":"28"},{"u":73,"v":328,"t":"26"},{"u":76,"v":368,"t":"24"},{"u":77,"v":407,"t":"22"},{"u":83,"v":444,"t":"20"},{"u":83,"v":482,"t":"18"},{"u":85,"v":522,"t":"16"}]},"mark":{"type":"text","font":"Liberation Sans","fontSize":17,"angle":-15,"fill":"#6e6e6e","align":"center","baseline":"middle"},"encoding":{"text":{"field":"t"}}},
{"data":{"values":[{"u":87,"v":560,"t":"22"},{"u":108,"v":577,"t":"20"},{"u":132,"v":593,"t":"18"},{"u":155,"v":609,"t":"16"},{"u":178,"v":627,"t":"14"},{"u":200,"v":645,"t":"12"},{"u":223,"v":663,"t":"10"},{"u":250,"v":681,"t":"8"},{"u":273,"v":698,"t":"6"},{"u":299,"v":717,"t":"4"},{"u":324,"v":736,"t":"2"},{"u":347,"v":753,"t":"0"},{"u":373,"v":774,"t":"-2"},{"u":177,"v":680,"t":"HIPS (%)"}]},"mark":{"type":"text","font":"Liberation Sans","fontSize":16,"angle":38,"fill":"#6e6e6e","align":"center","baseline":"middle"},"encoding":{"text":{"field":"t"}}},
{"data":{"values":[{"u":410,"v":777,"t":"-2"},{"u":437,"v":757,"t":"0"},{"u":467,"v":743,"t":"2"},{"u":495,"v":727,"t":"4"},{"u":525,"v":710,"t":"6"},{"u":555,"v":697,"t":"8"},{"u":590,"v":685,"t":"10"},{"u":618,"v":670,"t":"12"},{"u":647,"v":655,"t":"14"},{"u":672,"v":640,"t":"16"},{"u":703,"v":625,"t":"18"},{"u":728,"v":610,"t":"20"}]},"mark":{"type":"text","font":"Liberation Sans","fontSize":16,"angle":-30,"fill":"#6e6e6e","align":"center","baseline":"middle"},"encoding":{"text":{"field":"t"}}},
{"data":{"values":[{"u":623,"v":710,"t":"PAE (%)"}]},"mark":{"type":"text","font":"Liberation Sans","fontSize":16,"angle":-24,"fill":"#6e6e6e","align":"center","baseline":"middle"},"encoding":{"text":{"field":"t"}}},
{"data":{"values":[{"u":34,"v":380,"t":"Tensão máx (MPa)"}]},"mark":{"type":"text","font":"Liberation Sans","fontSize":17,"angle":85,"fill":"#6e6e6e","align":"center","baseline":"middle"},"encoding":{"text":{"field":"t"}}},
{"data":{"values":[{"u":283,"v":810,"t":"FONTE: Autora (2020)."}]},"mark":{"type":"text","font":"Open Sans","fontSize":32,"fill":"#404040","align":"left","baseline":"alphabetic"},"encoding":{"text":{"field":"t"}}}
]}
